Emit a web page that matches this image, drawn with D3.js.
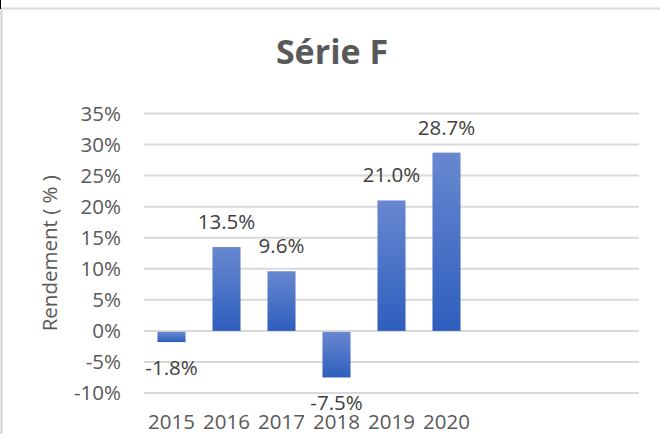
<!DOCTYPE html>
<html>
<head>
<meta charset="utf-8">
<script src="https://cdn.jsdelivr.net/npm/d3@7"></script>
<style>
  body { margin: 0; background: #fff; }
  svg { display: block; font-family: "Open Sans", Lato, sans-serif; }
</style>
</head>
<body>
<div id="chart"></div>
<script>
// Chart data
const title = "Série F";
const yAxisTitle = "Rendement ( % )";
const years = ["2015", "2016", "2017", "2018", "2019", "2020"];
const returns = [-0.018, 0.135, 0.096, -0.075, 0.210, 0.287];
const yTicks = [-0.10, -0.05, 0, 0.05, 0.10, 0.15, 0.20, 0.25, 0.30, 0.35];
// the sheet range has 9 rows, the last 3 empty
const slots = 9;

const width = 660, height = 434;
const fontSize = 20.5;

// Excel shows a plain hyphen for negatives
const pct0 = d => d3.format(".0%")(d).replace("−", "-");
const pct1 = d => d3.format(".1%")(d).replace("−", "-");

const svg = d3.select("#chart")
    .append("svg")
    .attr("width", width)
    .attr("height", height);

// gradient like the Excel fill
const defs = svg.append("defs");
const grad = defs.append("linearGradient")
    .attr("id", "barGrad")
    .attr("x1", 0).attr("y1", 0)
    .attr("x2", 0).attr("y2", 1);
grad.append("stop").attr("offset", "0%").attr("stop-color", "#6888d0");
grad.append("stop").attr("offset", "100%").attr("stop-color", "#2e5ebd");

// chart frame
svg.append("line")
    .attr("x1", 1.5).attr("x2", 1.5)
    .attr("y1", 8).attr("y2", height)
    .attr("stroke", "#d0d0d0").attr("stroke-width", 2);
svg.append("line")
    .attr("x1", 0).attr("x2", width)
    .attr("y1", 8.5).attr("y2", 8.5)
    .attr("stroke", "#d9d9d9").attr("stroke-width", 2);
svg.append("line")
    .attr("x1", 0.5).attr("x2", 0.5)
    .attr("y1", 0).attr("y2", 9)
    .attr("stroke", "#000").attr("stroke-width", 1);

// scales
const xScale = d3.scaleBand()
    .domain(d3.range(slots))
    .range([144, 639])
    .paddingInner(0.49)
    .paddingOuter(0.245);

const yScale = d3.scaleLinear()
    .domain([-0.10, 0.35])
    .range([393, 113.5]);

// gridlines
svg.append("g")
    .selectAll("line")
    .data(yTicks)
    .join("line")
    .attr("x1", 144)
    .attr("x2", 639)
    .attr("y1", d => yScale(d))
    .attr("y2", d => yScale(d))
    .attr("stroke", "#d9d9d9")
    .attr("stroke-width", 2);

// y axis tick labels
svg.append("g")
    .selectAll("text")
    .data(yTicks)
    .join("text")
    .attr("x", 121)
    .attr("y", d => yScale(d))
    .attr("dy", "0.36em")
    .attr("text-anchor", "end")
    .attr("font-size", fontSize)
    .attr("fill", "#595959")
    .text(pct0);

// bars
const data = years.map((y, i) => ({ year: y, value: returns[i], idx: i }));

svg.append("g")
    .selectAll("rect")
    .data(data)
    .join("rect")
    .attr("x", d => xScale(d.idx))
    .attr("width", xScale.bandwidth())
    .attr("y", d => d.value >= 0 ? yScale(d.value) : yScale(0) + 1)
    .attr("height", d => Math.abs(yScale(d.value) - yScale(0)) - (d.value >= 0 ? 0 : 1))
    .attr("fill", "url(#barGrad)");

// data labels
svg.append("g")
    .selectAll("text")
    .data(data)
    .join("text")
    .attr("x", d => xScale(d.idx) + xScale.bandwidth() / 2)
    .attr("y", d => d.value >= 0 ? yScale(d.value) - 18 : yScale(d.value) + 33)
    .attr("text-anchor", "middle")
    .attr("font-size", fontSize)
    .attr("fill", "#404040")
    .text(d => pct1(d.value));

// x axis labels
svg.append("g")
    .selectAll("text")
    .data(data)
    .join("text")
    .attr("x", d => xScale(d.idx) + xScale.bandwidth() / 2)
    .attr("y", 429)
    .attr("text-anchor", "middle")
    .attr("font-size", fontSize)
    .attr("fill", "#595959")
    .text(d => d.year);

// axis title
svg.append("text")
    .attr("transform", `translate(57, ${(yScale(0.35) + yScale(-0.10)) / 2}) rotate(-90)`)
    .attr("text-anchor", "middle")
    .attr("font-size", fontSize)
    .attr("fill", "#595959")
    .text(yAxisTitle);

// title
svg.append("text")
    .attr("x", 332)
    .attr("y", 64)
    .attr("text-anchor", "middle")
    .attr("font-size", 34)
    .attr("font-weight", "bold")
    .attr("fill", "#595959")
    .text(title);
</script>
</body>
</html>
